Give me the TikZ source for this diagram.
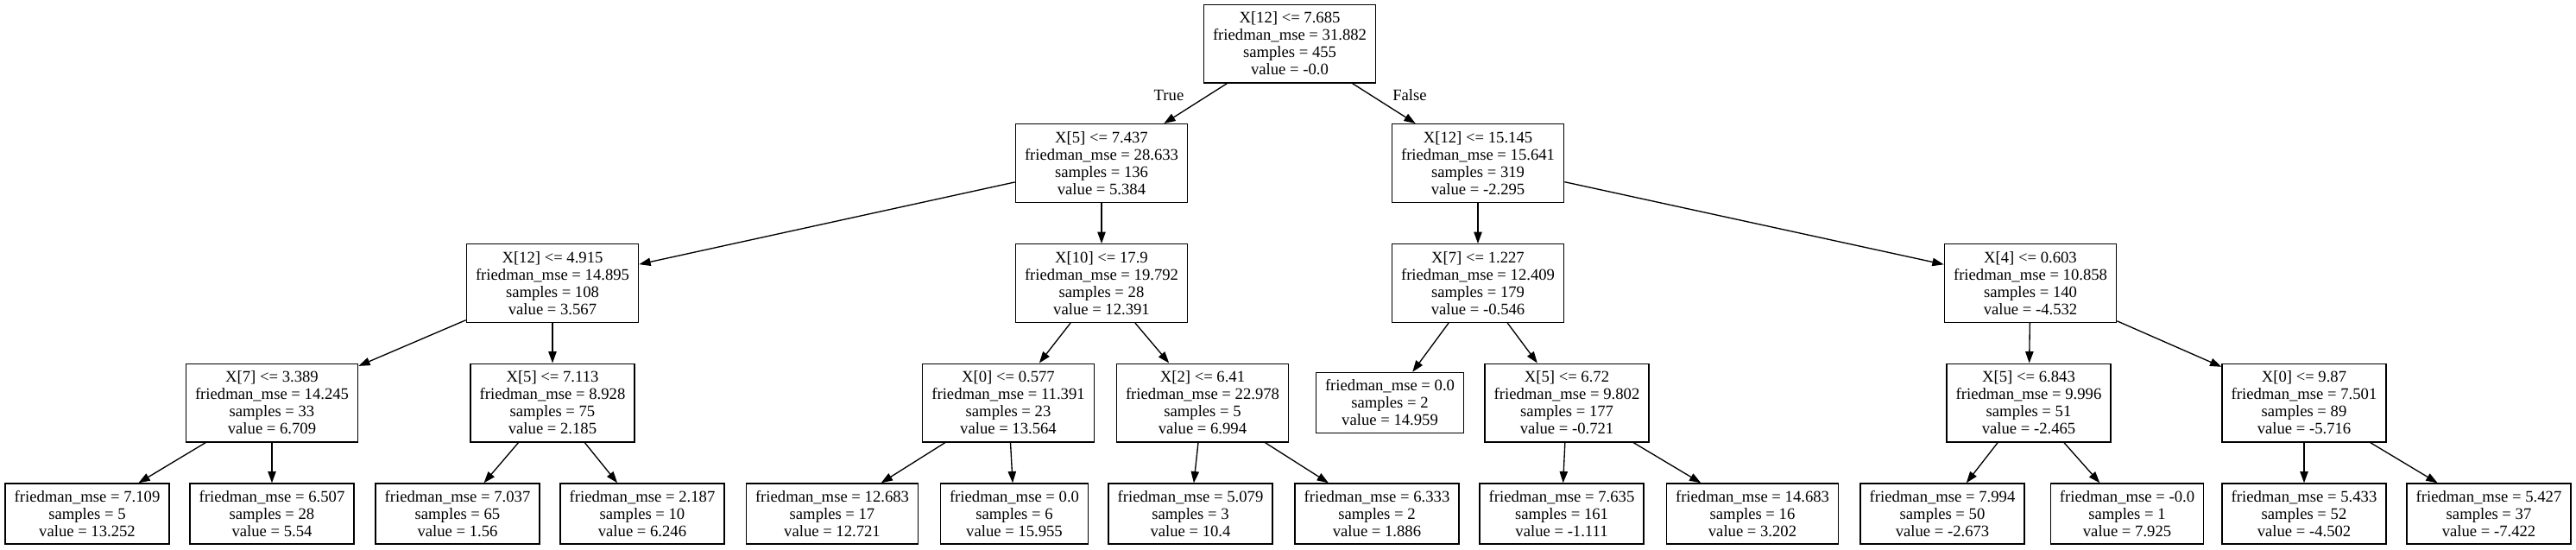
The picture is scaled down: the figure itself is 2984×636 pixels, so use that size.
\documentclass[tikz,border=0pt]{standalone}
\usepackage{fontspec}
\setmainfont{Liberation Serif}
\usetikzlibrary{arrows.meta}
\tikzset{%
	splitbox/.style = {draw, rectangle, line width=1pt, align=center, minimum height=68pt, inner xsep=8pt, font=\fontsize{14}{15}\selectfont},
	leafbox/.style  = {draw, rectangle, line width=1pt, align=center, minimum height=52.5pt, inner xsep=8pt, font=\fontsize{14}{15}\selectfont},
	arrow/.style    = {line width=1pt, -{Triangle[length=10pt,width=7pt]}},
	edgelabel/.style= {font=\fontsize{14}{15}\selectfont, inner sep=0pt},
}
\begin{document}
\begin{tikzpicture}[x=0.75pt, y=-0.75pt]
		\fill[white] (0,0) rectangle (2984,636);
		% level 0 and 1
		\node[splitbox] (n0) at (1494,50.5) {X[12] <= 7.685\\friedman\_mse = 31.882\\samples = 455\\value = -0.0};
		\node[splitbox] (n1) at (1276,189) {X[5] <= 7.437\\friedman\_mse = 28.633\\samples = 136\\value = 5.384};
		\node[splitbox] (n16) at (1712,189) {X[12] <= 15.145\\friedman\_mse = 15.641\\samples = 319\\value = -2.295};
		% level 2
		\node[splitbox] (n2) at (640,328) {X[12] <= 4.915\\friedman\_mse = 14.895\\samples = 108\\value = 3.567};
		\node[splitbox] (n9) at (1276,328) {X[10] <= 17.9\\friedman\_mse = 19.792\\samples = 28\\value = 12.391};
		\node[splitbox] (n17) at (1712,328) {X[7] <= 1.227\\friedman\_mse = 12.409\\samples = 179\\value = -0.546};
		\node[splitbox] (n22) at (2352,328) {X[4] <= 0.603\\friedman\_mse = 10.858\\samples = 140\\value = -4.532};
		% level 3
		\node[splitbox] (n3) at (315,466.5) {X[7] <= 3.389\\friedman\_mse = 14.245\\samples = 33\\value = 6.709};
		\node[splitbox] (n6) at (640,466.5) {X[5] <= 7.113\\friedman\_mse = 8.928\\samples = 75\\value = 2.185};
		\node[splitbox] (n10) at (1168,466.5) {X[0] <= 0.577\\friedman\_mse = 11.391\\samples = 23\\value = 13.564};
		\node[splitbox] (n13) at (1393,466.5) {X[2] <= 6.41\\friedman\_mse = 22.978\\samples = 5\\value = 6.994};
		\node[leafbox] (n18) at (1610,466.5) {friedman\_mse = 0.0\\samples = 2\\value = 14.959};
		\node[splitbox] (n19) at (1815,466.5) {X[5] <= 6.72\\friedman\_mse = 9.802\\samples = 177\\value = -0.721};
		\node[splitbox] (n23) at (2350,466.5) {X[5] <= 6.843\\friedman\_mse = 9.996\\samples = 51\\value = -2.465};
		\node[splitbox] (n26) at (2669,466.5) {X[0] <= 9.87\\friedman\_mse = 7.501\\samples = 89\\value = -5.716};
		% leaves
		\node[leafbox] (n4) at (101,595) {friedman\_mse = 7.109\\samples = 5\\value = 13.252};
		\node[leafbox] (n5) at (315,595) {friedman\_mse = 6.507\\samples = 28\\value = 5.54};
		\node[leafbox] (n7) at (530,595) {friedman\_mse = 7.037\\samples = 65\\value = 1.56};
		\node[leafbox] (n8) at (744,595) {friedman\_mse = 2.187\\samples = 10\\value = 6.246};
		\node[leafbox] (n11) at (964,595) {friedman\_mse = 12.683\\samples = 17\\value = 12.721};
		\node[leafbox] (n12) at (1175,595) {friedman\_mse = 0.0\\samples = 6\\value = 15.955};
		\node[leafbox] (n14) at (1379,595) {friedman\_mse = 5.079\\samples = 3\\value = 10.4};
		\node[leafbox] (n15) at (1595,595) {friedman\_mse = 6.333\\samples = 2\\value = 1.886};
		\node[leafbox] (n20) at (1809,595) {friedman\_mse = 7.635\\samples = 161\\value = -1.111};
		\node[leafbox] (n21) at (2030,595) {friedman\_mse = 14.683\\samples = 16\\value = 3.202};
		\node[leafbox] (n24) at (2250,595) {friedman\_mse = 7.994\\samples = 50\\value = -2.673};
		\node[leafbox] (n25) at (2464,595) {friedman\_mse = -0.0\\samples = 1\\value = 7.925};
		\node[leafbox] (n27) at (2669,595) {friedman\_mse = 5.433\\samples = 52\\value = -4.502};
		\node[leafbox] (n28) at (2883,595) {friedman\_mse = 5.427\\samples = 37\\value = -7.422};
		
		% edges
		\draw[arrow] (n0) -- (n1);
		\draw[arrow] (n0) -- (n16);
		\draw[arrow] (n1) -- (n2);
		\draw[arrow] (n1) -- (n9);
		\draw[arrow] (n16) -- (n17);
		\draw[arrow] (n16) -- (n22);
		\draw[arrow] (n2) -- (n3);
		\draw[arrow] (n2) -- (n6);
		\draw[arrow] (n9) -- (n10);
		\draw[arrow] (n9) -- (n13);
		\draw[arrow] (n17) -- (n18);
		\draw[arrow] (n17) -- (n19);
		\draw[arrow] (n22) -- (n23);
		\draw[arrow] (n22) -- (n26);
		\draw[arrow] (n3) -- (n4);
		\draw[arrow] (n3) -- (n5);
		\draw[arrow] (n6) -- (n7);
		\draw[arrow] (n6) -- (n8);
		\draw[arrow] (n10) -- (n11);
		\draw[arrow] (n10) -- (n12);
		\draw[arrow] (n13) -- (n14);
		\draw[arrow] (n13) -- (n15);
		\draw[arrow] (n19) -- (n20);
		\draw[arrow] (n19) -- (n21);
		\draw[arrow] (n23) -- (n24);
		\draw[arrow] (n23) -- (n25);
		\draw[arrow] (n26) -- (n27);
		\draw[arrow] (n26) -- (n28);
		
		\node[edgelabel] (ltrue) at (1354,110) {True};
		\node[edgelabel] (lfalse) at (1633,110) {False};
		\end{tikzpicture}
\end{document}
